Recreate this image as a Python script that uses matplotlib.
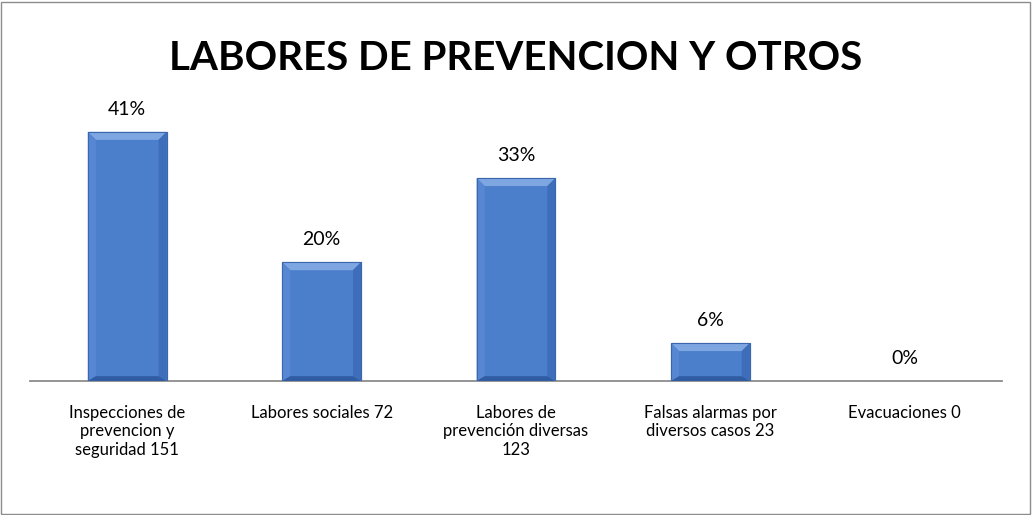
import matplotlib
matplotlib.use("Agg")
import matplotlib.pyplot as plt
from matplotlib.patches import Polygon, Rectangle
import numpy as np

plt.rcParams['font.family'] = ['Lato', 'DejaVu Sans']

titulo = "LABORES DE PREVENCION Y OTROS"
categorias = ["Inspecciones de\nprevencion y\nseguridad 151",
              "Labores sociales 72",
              "Labores de\nprevención diversas\n123",
              "Falsas alarmas por\ndiversos casos 23",
              "Evacuaciones 0"]
valores = [151, 72, 123, 23, 0]

total = sum(valores)
porcentajes = [v / total * 100 for v in valores]

fig = plt.figure(figsize=(10.32, 5.15), dpi=100)
fig.patches.append(Rectangle((0.001, 0.002), 0.997, 0.995, transform=fig.transFigure,
                             fill=False, edgecolor='#8c8c8c', linewidth=1))

# plot area: x 30..1002 px, baseline at y=381 px
ax = fig.add_axes([30 / 1032, (515 - 381) / 515, 972 / 1032, 264 / 515])
x = np.arange(len(valores))
bars = ax.bar(x, valores, width=0.405, color='#4c7fcb', edgecolor='#3a67ad', linewidth=0.8, zorder=2)
ax.set_xlim(-0.5, len(valores) - 0.5)
ax.set_ylim(0, 160)

for s in ['top', 'right', 'left']:
    ax.spines[s].set_visible(False)
ax.spines['bottom'].set_color('#8c8c8c')
ax.spines['bottom'].set_linewidth(1.3)
ax.set_yticks([])
ax.set_xticks(x)
ax.set_xticklabels(categorias, fontsize=12, linespacing=1.2)
ax.tick_params(axis='x', length=0, pad=17)

# bevel
fig.canvas.draw()
inv = ax.transData.inverted()
bev = 8  # px
for b in bars:
    if b.get_height() <= 0:
        continue
    x0, y0 = b.get_x(), 0
    x1, y1 = x0 + b.get_width(), b.get_height()
    p0 = ax.transData.transform((x0, y0))
    p1 = ax.transData.transform((x1, y1))
    ix0, iy0 = inv.transform((p0[0] + bev, p0[1] + bev * 0.6))
    ix1, iy1 = inv.transform((p1[0] - bev, p1[1] - bev))
    caras = [
        ([(x0, y1), (x1, y1), (ix1, iy1), (ix0, iy1)], '#7ea7e2'),
        ([(x0, y0), (x0, y1), (ix0, iy1), (ix0, iy0)], '#5787d2'),
        ([(x1, y0), (x1, y1), (ix1, iy1), (ix1, iy0)], '#3e6dba'),
        ([(x0, y0), (x1, y0), (ix1, iy0), (ix0, iy0)], '#2f5ca3'),
    ]
    for pts, c in caras:
        ax.add_patch(Polygon(pts, closed=True, facecolor=c, edgecolor='none', zorder=3))
    ax.add_patch(Rectangle((x0, y0), b.get_width(), b.get_height(), fill=False,
                           edgecolor='#3a67ad', linewidth=0.8, zorder=4))

for xi, v, p in zip(x, valores, porcentajes):
    ax.annotate(f"{p:.0f}%", (xi, v), xytext=(0, 10), textcoords='offset points',
                ha='center', va='bottom', fontsize=14, annotation_clip=False)

fig.text(0.5, 1 - 58 / 515, titulo, ha='center', va='center', fontsize=29, fontweight='bold')

fig.savefig('out.png', dpi=100)
